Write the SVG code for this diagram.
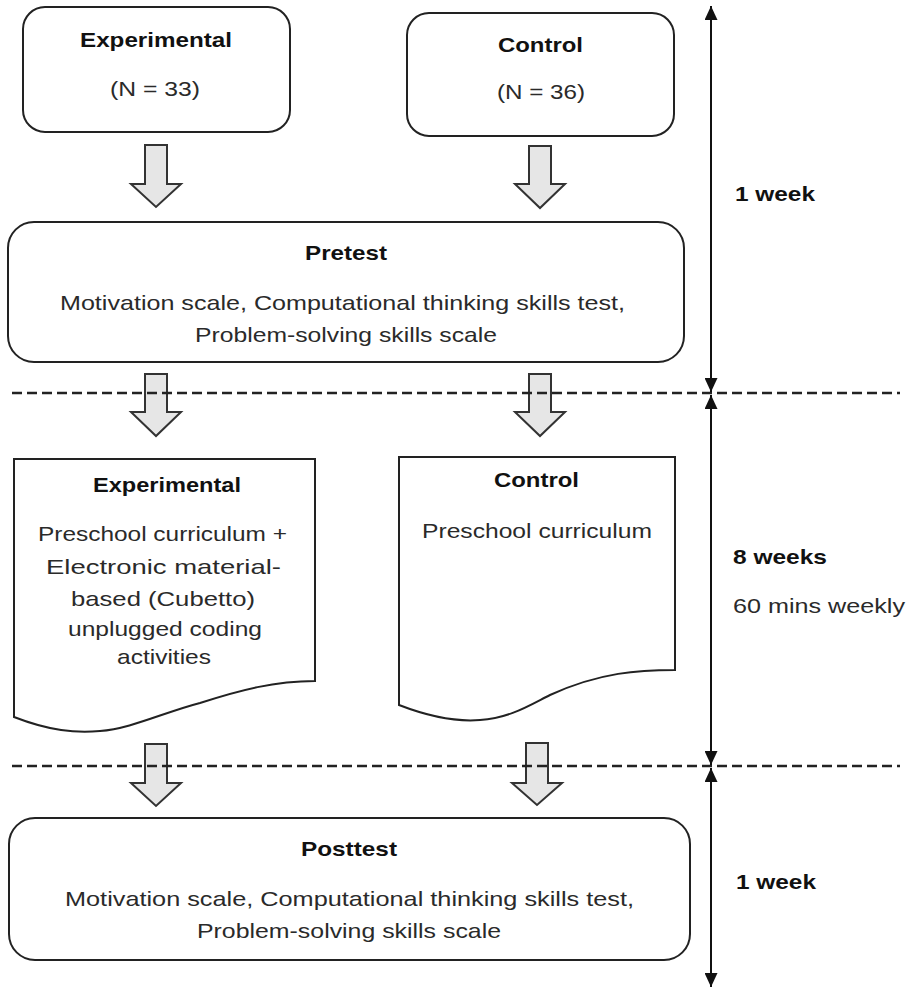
<svg xmlns="http://www.w3.org/2000/svg" width="907" height="989" viewBox="0 0 907 989">
<defs>
<style>
.box{fill:#fff;stroke:#222;stroke-width:2}
.blk{fill:#e6e6e6;stroke:#333;stroke-width:2;stroke-linejoin:miter}
.b{font-family:"Liberation Sans",Arial,sans-serif;font-weight:bold;font-size:21px;fill:#111;text-anchor:start}
.r{font-family:"Liberation Sans",Arial,sans-serif;font-size:21px;fill:#2a2a2a;text-anchor:start}
.dash{stroke:#222;stroke-width:2.5;stroke-dasharray:10 5;fill:none}
.axis{stroke:#111;stroke-width:2;fill:none}
</style>
<marker id="ah" markerUnits="userSpaceOnUse" markerWidth="14" markerHeight="13" refX="14" refY="6.5" orient="auto-start-reverse">
<path d="M0,0 L14,6.5 L0,13 Z" fill="#111"/>
</marker>
</defs>
<rect width="907" height="989" fill="#fff"/>

<g id="experimental-group">
<rect class="box" x="23" y="7" width="267" height="125" rx="22"/>
<text class="b" x="80" y="47" textLength="152" lengthAdjust="spacingAndGlyphs">Experimental</text>
<text class="r" x="110" y="96" textLength="90" lengthAdjust="spacingAndGlyphs">(N = 33)</text>
</g>

<g id="control-group">
<rect class="box" x="407" y="13" width="267" height="123" rx="22"/>
<text class="b" x="498" y="52" textLength="85" lengthAdjust="spacingAndGlyphs">Control</text>
<text class="r" x="497" y="99" textLength="88" lengthAdjust="spacingAndGlyphs">(N = 36)</text>
</g>

<g id="pretest">
<rect class="box" x="8" y="222" width="676" height="140" rx="26"/>
<text class="b" x="305" y="260" textLength="82" lengthAdjust="spacingAndGlyphs">Pretest</text>
<text class="r" x="60" y="310" textLength="565" lengthAdjust="spacingAndGlyphs">Motivation scale, Computational thinking skills test,</text>
<text class="r" x="195" y="342" textLength="302" lengthAdjust="spacingAndGlyphs">Problem-solving skills scale</text>
</g>

<g id="experimental-intervention">
<path class="box" d="M14,717 V459 H315 V681 C275,681 240,690 200,703 C165,712 130,729 100,731 C75,733 50,731 14,717 Z"/>
<text class="b" x="93" y="492" textLength="148" lengthAdjust="spacingAndGlyphs">Experimental</text>
<text class="r" x="38" y="541" textLength="249" lengthAdjust="spacingAndGlyphs">Preschool curriculum +</text>
<text class="r" x="46" y="574" textLength="235" lengthAdjust="spacingAndGlyphs">Electronic material-</text>
<text class="r" x="71" y="606" textLength="184" lengthAdjust="spacingAndGlyphs">based (Cubetto)</text>
<text class="r" x="68" y="636" textLength="194" lengthAdjust="spacingAndGlyphs">unplugged coding</text>
<text class="r" x="117" y="664" textLength="94" lengthAdjust="spacingAndGlyphs">activities</text>
</g>

<g id="control-intervention">
<path class="box" d="M399,705 V457 H675 V670 C640,670 600,672 550,695 C530,705 510,718 480,720 C455,722 430,717 399,705 Z"/>
<text class="b" x="494" y="487" textLength="85" lengthAdjust="spacingAndGlyphs">Control</text>
<text class="r" x="422" y="538" textLength="230" lengthAdjust="spacingAndGlyphs">Preschool curriculum</text>
</g>

<g id="posttest">
<rect class="box" x="9" y="818" width="681" height="142" rx="26"/>
<text class="b" x="301" y="856" textLength="96" lengthAdjust="spacingAndGlyphs">Posttest</text>
<text class="r" x="65" y="906" textLength="569" lengthAdjust="spacingAndGlyphs">Motivation scale, Computational thinking skills test,</text>
<text class="r" x="197" y="938" textLength="304" lengthAdjust="spacingAndGlyphs">Problem-solving skills scale</text>
</g>

<g id="timeline-labels">
<text class="b" x="735" y="201" textLength="80" lengthAdjust="spacingAndGlyphs">1 week</text>
<text class="b" x="733" y="564" textLength="94" lengthAdjust="spacingAndGlyphs">8 weeks</text>
<text class="r" x="733" y="613" textLength="172" lengthAdjust="spacingAndGlyphs">60 mins weekly</text>
<text class="b" x="736" y="889" textLength="80" lengthAdjust="spacingAndGlyphs">1 week</text>
</g>

<g id="connectors">
<path class="blk" d="M145,145 H167 V184 H181 L156,207 L131,184 H145 Z"/>
<path class="blk" d="M529,146 H551 V184 H565 L540,208 L515,184 H529 Z"/>
<path class="blk" d="M145,374 H167 V412 H181 L156,436 L131,412 H145 Z"/>
<path class="blk" d="M529,374 H551 V412 H565 L540,436 L515,412 H529 Z"/>
<path class="blk" d="M145,744 H167 V783 H181 L156,806 L131,783 H145 Z"/>
<path class="blk" d="M526,743 H548 V783 H562 L537,805 L512,783 H526 Z"/>
<line class="dash" x1="12" y1="393" x2="900" y2="393"/>
<line class="dash" x1="12" y1="766" x2="900" y2="766"/>
<line class="axis" x1="711" y1="6" x2="711" y2="392" marker-start="url(#ah)" marker-end="url(#ah)"/>
<line class="axis" x1="711" y1="395" x2="711" y2="765" marker-start="url(#ah)" marker-end="url(#ah)"/>
<line class="axis" x1="711" y1="768" x2="711" y2="987" marker-start="url(#ah)" marker-end="url(#ah)"/>
</g>
</svg>
